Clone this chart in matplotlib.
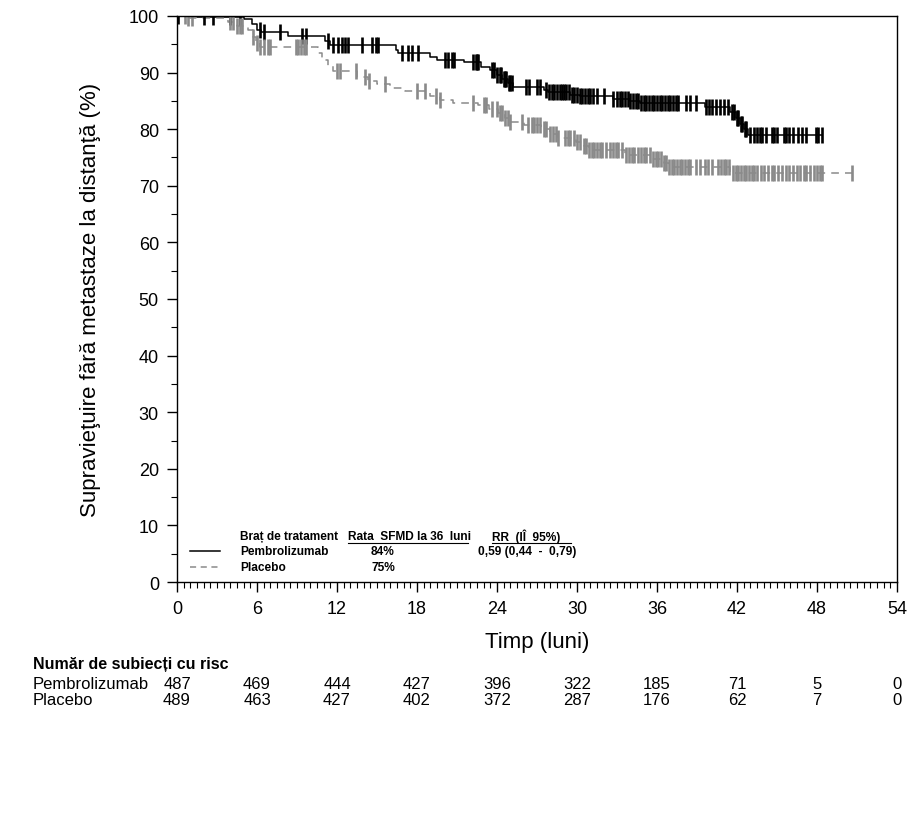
import matplotlib.pyplot as plt
from matplotlib.ticker import MultipleLocator
from matplotlib.lines import Line2D

# Kaplan-Meier step points (time in months, survival %)
pembro_t = [0, 1.5, 5.0, 5.6, 6.0, 6.3, 8.3, 11.1, 11.5, 16.4, 16.6, 19.0, 19.5,
            21.5, 22.8, 23.5, 24.0, 24.4, 24.8, 25.2, 27.5, 27.8, 29.5, 30.2,
            32.7, 34.0, 34.7, 39.6, 41.5, 41.9, 42.2, 42.5, 42.8]
pembro_s = [100, 99.8, 99.5, 98.5, 97.5, 97.2, 96.5, 95.5, 94.8, 94.0, 93.5, 92.7,
            92.2, 91.9, 91.0, 90.4, 89.6, 88.9, 88.2, 87.5, 87.0, 86.5, 86.0, 85.8,
            85.4, 85.0, 84.7, 84.0, 83.0, 82.0, 81.0, 80.0, 79.0]
pembro_end = 48.4

placebo_t = [0, 0.8, 3.8, 4.5, 5.3, 5.7, 5.9, 6.2, 10.6, 10.9, 11.3, 11.7, 13.5,
             14.3, 15.0, 16.0, 17.1, 19.0, 19.7, 20.7, 22.6, 23.4, 24.1, 24.6,
             25.0, 26.0, 27.3, 28.0, 28.6, 29.9, 30.5, 30.9, 33.6, 35.6, 36.5,
             36.9, 41.5]
placebo_s = [100, 99.6, 99.0, 98.3, 97.5, 96.2, 95.3, 94.5, 93.5, 92.3, 91.2, 90.2,
             89.3, 88.5, 88.0, 87.3, 86.7, 85.8, 85.2, 84.7, 84.2, 83.6, 82.9, 82.0,
             81.3, 80.7, 80.0, 79.2, 78.5, 77.7, 77.0, 76.4, 75.5, 74.8, 74.0, 73.3,
             72.2]
placebo_end = 50.6

# censoring times (months)
pembro_cens = [0.1, 2.0, 2.7, 4.0, 4.7, 6.2, 6.5, 7.7, 9.4, 9.7, 11.3, 11.7, 12.1,
               12.4, 12.6, 12.8, 13.9, 14.6, 14.9, 15.1, 16.9, 17.3, 17.6, 18.1,
               20.1, 20.3, 20.6, 20.8, 22.2, 22.4, 22.5, 22.6, 23.6, 23.8, 24.0,
               24.2, 24.3, 24.5, 24.6, 24.7, 24.9, 25.0, 25.1, 26.2, 26.4, 27.0,
               27.2, 27.7, 27.9, 28.1, 28.3, 28.5, 28.7, 28.9, 29.0, 29.2, 29.4,
               29.6, 29.8, 30.0, 30.2, 30.4, 30.6, 30.8, 31.0, 31.2, 31.5, 32.0,
               32.7, 33.0, 33.2, 33.4, 33.6, 33.8, 34.0, 34.2, 34.4, 34.6, 34.8,
               35.0, 35.2, 35.4, 35.6, 35.8, 36.0, 36.2, 36.4, 36.6, 36.8, 37.0,
               37.2, 37.4, 37.6, 38.2, 38.5, 38.9, 39.7, 39.9, 40.1, 40.4, 40.7,
               41.0, 41.3, 41.6, 41.8, 42.0, 42.1, 42.3, 42.4, 42.6, 42.7, 43.0,
               43.3, 43.5, 43.7, 43.9, 44.2, 44.6, 44.8, 45.0, 45.5, 45.7, 45.9,
               46.2, 46.6, 46.9, 47.2, 47.9, 48.1, 48.4]
placebo_cens = [0.6, 0.8, 1.1, 4.0, 4.2, 4.5, 4.7, 4.9, 5.7, 6.0, 6.2, 6.5, 6.8,
                7.0, 8.9, 9.1, 9.3, 9.5, 9.7, 12.0, 12.2, 13.4, 14.1, 14.4, 15.6,
                18.0, 18.6, 19.4, 19.7, 22.2, 23.0, 23.2, 23.6, 24.0, 24.2, 24.4,
                24.6, 24.8, 25.0, 25.9, 26.3, 26.6, 26.8, 27.0, 27.2, 27.5, 27.7,
                28.0, 28.2, 28.4, 28.6, 29.1, 29.3, 29.5, 29.8, 30.0, 30.2, 30.5,
                30.7, 30.9, 31.1, 31.3, 31.5, 31.7, 31.9, 32.2, 32.5, 32.7, 32.9,
                33.1, 33.4, 33.7, 33.9, 34.1, 34.3, 34.6, 34.8, 35.0, 35.2, 35.5,
                35.7, 35.9, 36.1, 36.3, 36.5, 36.7, 36.9, 37.1, 37.3, 37.5, 37.7,
                37.9, 38.1, 38.3, 38.5, 38.9, 39.2, 39.6, 39.8, 40.1, 40.6, 40.8,
                41.0, 41.2, 41.4, 41.7, 41.9, 42.1, 42.3, 42.5, 42.7, 42.9, 43.1,
                43.3, 43.5, 43.8, 44.0, 44.3, 44.6, 44.8, 45.1, 45.4, 45.7, 45.9,
                46.2, 46.5, 46.7, 47.0, 47.2, 47.5, 47.8, 48.0, 48.2, 48.4, 50.6]

risk_times = [0, 6, 12, 18, 24, 30, 36, 42, 48, 54]
risk_pembro = [487, 469, 444, 427, 396, 322, 185, 71, 5, 0]
risk_placebo = [489, 463, 427, 402, 372, 287, 176, 62, 7, 0]

GRAY = "#8a8a8a"
plt.rcParams["font.family"] = ["Liberation Sans", "DejaVu Sans"]


def surv_at(t, times, surv):
    s = surv[0]
    for tt, ss in zip(times, surv):
        if tt <= t:
            s = ss
    return s


fig = plt.figure(figsize=(9.15, 8.2), dpi=100)
ax = fig.add_axes([0.1934, 0.289, 0.7869, 0.6903])

# curves
ax.step(pembro_t + [pembro_end], pembro_s + [pembro_s[-1]], where="post",
        color="black", lw=1.1)
ax.step(placebo_t + [placebo_end], placebo_s + [placebo_s[-1]], where="post",
        color=GRAY, lw=1.1, dashes=(5, 4))

# censor marks
ax.plot(pembro_cens, [surv_at(t, pembro_t, pembro_s) for t in pembro_cens],
        ls="none", marker="|", ms=11, mew=1.9, color="black")
ax.plot(placebo_cens, [surv_at(t, placebo_t, placebo_s) for t in placebo_cens],
        ls="none", marker="|", ms=11, mew=1.9, color=GRAY)

ax.set_xlim(0, 54)
ax.set_ylim(0, 100)
ax.xaxis.set_major_locator(MultipleLocator(6))
ax.xaxis.set_minor_locator(MultipleLocator(0.5))
ax.yaxis.set_major_locator(MultipleLocator(10))
ax.yaxis.set_minor_locator(MultipleLocator(5))
ax.tick_params(which="major", length=7, width=1, labelsize=13, pad=6)
ax.tick_params(which="minor", length=4, width=0.8)
for sp in ax.spines.values():
    sp.set_linewidth(1)

ax.set_xlabel("Timp (luni)", fontsize=16, labelpad=10)
ax.set_ylabel("Supravieţuire fără metastaze la distanţă (%)", fontsize=16,
              labelpad=20)

# in-plot legend table
fig.add_artist(Line2D([190 / 915, 220 / 915], [1 - 552 / 820] * 2,
                      color="black", lw=1.1))
fig.add_artist(Line2D([190 / 915, 220 / 915], [1 - 568 / 820] * 2,
                      color=GRAY, lw=1.1, dashes=(4, 3)))
kw = dict(fontsize=8.6, fontweight="bold", va="center")
fig.text(240 / 915, 1 - 537 / 820, "Braț de tratament", **kw)
fig.text(348 / 915, 1 - 537 / 820, "Rata  SFMD la 36  luni", **kw)
fig.text(492 / 915, 1 - 537 / 820, "RR  (IÎ  95%)", **kw)
fig.add_artist(Line2D([348 / 915, 468 / 915], [1 - 544 / 820] * 2,
                      color="black", lw=0.8))
fig.add_artist(Line2D([492 / 915, 571 / 915], [1 - 544 / 820] * 2,
                      color="black", lw=0.8))
fig.text(240 / 915, 1 - 552 / 820, "Pembrolizumab", **kw)
fig.text(371 / 915, 1 - 552 / 820, "84%", **kw)
fig.text(478 / 915, 1 - 552 / 820, "0,59 (0,44  -  0,79)", **kw)
fig.text(240 / 915, 1 - 568 / 820, "Placebo", **kw)
fig.text(372 / 915, 1 - 568 / 820, "75%", **kw)

# number at risk
fig.text(33 / 915, 1 - 665 / 820, "Număr de subiecți cu risc", fontsize=11.5,
         fontweight="bold", va="center")
for row_y, name, vals in [(685, "Pembrolizumab", risk_pembro),
                          (701, "Placebo", risk_placebo)]:
    fig.text(33 / 915, 1 - row_y / 820, name, fontsize=12, va="center")
    for t, v in zip(risk_times, vals):
        xpx = 177 + t * 720 / 54
        fig.text(xpx / 915, 1 - row_y / 820, str(v), fontsize=12,
                 va="center", ha="center")

fig.savefig("out.png", dpi=100)
